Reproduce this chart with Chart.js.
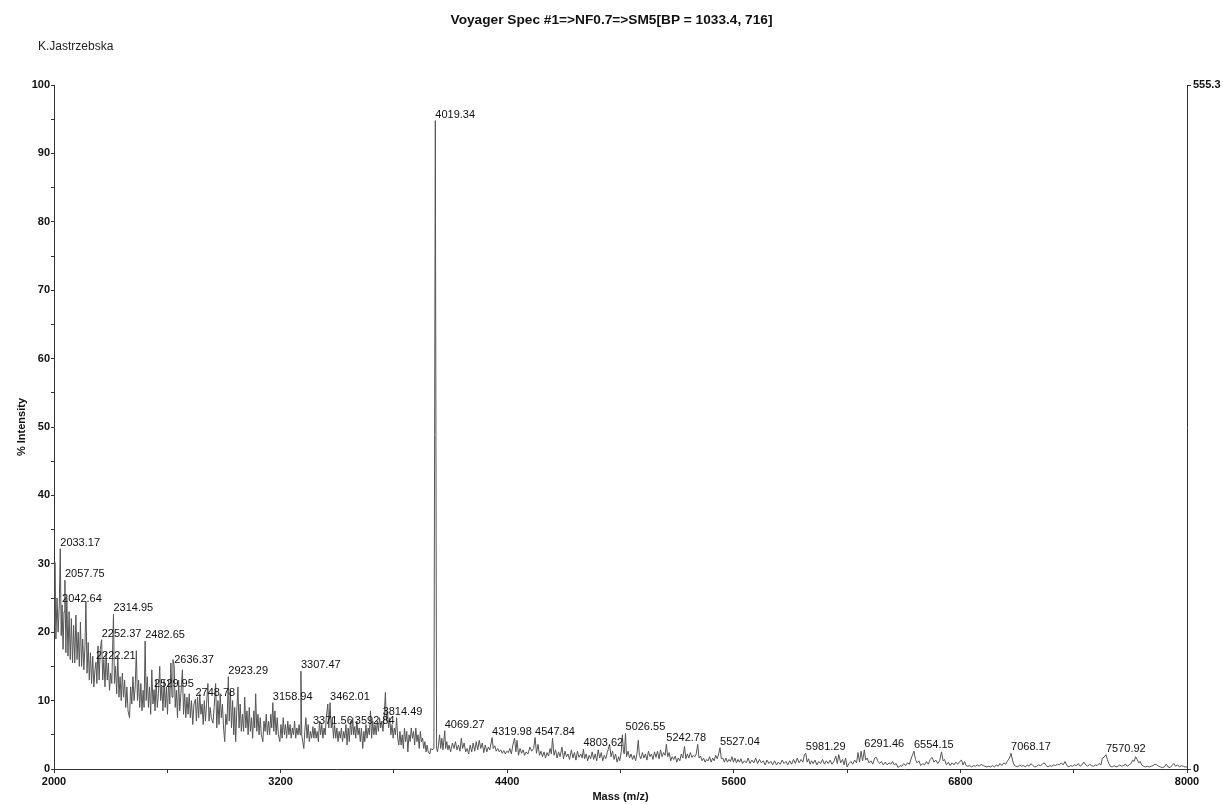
<!DOCTYPE html>
<html>
<head>
<meta charset="utf-8">
<title>Voyager Spec #1</title>
<script src="https://cdn.jsdelivr.net/npm/chart.js@4.4.1/dist/chart.umd.min.js"></script>
<style>
  html, body { margin: 0; padding: 0; background: #fff; }
  #wrap { width: 1223px; height: 805px; }
</style>
</head>
<body>
<div id="wrap"><canvas id="spectrum" width="1223" height="805"></canvas></div>
<script>
const titleText = "Voyager Spec #1=>NF0.7=>SM5[BP = 1033.4, 716]";
const operator = "K.Jastrzebska";

// m/z and % intensity, 2000-3000
const massA = [2000, 2005, 2010, 2016, 2022, 2028, 2033.17, 2038, 2042.64, 2048, 2053, 2057.75, 2063, 2068, 2074, 2080, 2086, 2092, 2098,
  2104, 2110, 2116, 2122, 2128, 2134, 2140, 2146, 2152, 2158, 2164, 2169, 2175, 2181, 2187, 2193, 2199,
  2205, 2211, 2217, 2222.21, 2227, 2233, 2239, 2245, 2252.37, 2258, 2264, 2270, 2276, 2282, 2288, 2294, 2300,
  2306, 2314.95, 2320, 2326, 2332, 2338, 2344, 2350, 2356, 2362, 2368, 2374, 2380, 2386, 2392, 2400,
  2406, 2412, 2418, 2424, 2430, 2436, 2442, 2448, 2454, 2460, 2466, 2472, 2477, 2482.65, 2488, 2494, 2500,
  2506, 2512, 2518, 2524, 2529.95, 2535, 2541, 2547, 2553, 2560, 2565, 2571, 2577, 2583, 2589, 2595, 2601,
  2607, 2613, 2619, 2625, 2630, 2636.37, 2642, 2648, 2654, 2660, 2666, 2672, 2680, 2686, 2692, 2698,
  2704, 2710, 2716, 2722, 2728, 2735, 2741, 2748.78, 2754, 2760, 2766, 2772, 2778, 2784, 2790, 2796,
  2802, 2808, 2815, 2821, 2827, 2833, 2842, 2848, 2856, 2862, 2868, 2874, 2880, 2886, 2892, 2898,
  2904, 2910, 2916, 2923.29, 2928, 2934, 2940, 2946, 2952, 2957, 2962, 2968, 2974, 2980, 2986, 2992, 2998];
const intA = [21, 30.2, 19, 25, 20, 24, 32.2, 19.5, 24, 17.5, 23, 27.6, 17, 25, 16.5, 23, 16, 22, 15.5,
  21, 15.5, 22.5, 16, 20, 15, 21.5, 15, 19, 14.5, 18, 24.5, 14, 18.5, 13, 17, 12.5,
  16.5, 12, 14.5, 15.6, 12.5, 18, 13, 17.5, 18.9, 13, 16, 12, 17, 13, 15.5, 11.5, 14,
  12.5, 22.6, 12.5, 15, 11, 16.5, 10.5, 13.5, 10, 14, 10.5, 13, 9, 12, 8.5, 7.5,
  12, 9.5, 13.5, 10, 12, 17.3, 10, 13, 9, 12.5, 8.5, 11.5, 9, 18.7, 10, 13.5, 9,
  12, 8, 14.5, 9.5, 11.6, 8.5, 13, 9, 11, 15, 10, 12, 8.5, 13, 9, 12, 8,
  13, 9.5, 15.5, 10.5, 16, 15.1, 9, 11.5, 7.5, 13, 8.5, 11, 14.5, 8, 11, 7.5,
  10.5, 8, 11, 7.5, 10, 6.5, 9.5, 10.2, 7, 10.5, 7.5, 11, 8, 9.5, 6.5, 10,
  7, 9.5, 12.5, 7, 9, 7.5, 6.7, 9, 12.5, 6, 10, 6.5, 11, 7.5, 9.5, 6,
  4, 8, 6.5, 13.5, 7, 11.5, 6, 10, 5, 9, 4, 8.5, 12, 6, 9.5, 5.5, 8];

// 3000-4100, including the base peak
const massB = [3004, 3010, 3016, 3022, 3028, 3034, 3040, 3046, 3052, 3058, 3063, 3068, 3074, 3080, 3086, 3092, 3098,
  3106, 3112, 3118, 3124, 3130, 3136, 3142, 3148, 3153, 3158.94, 3164, 3170, 3176, 3182, 3188, 3196,
  3202, 3208, 3214, 3220, 3226, 3232, 3238, 3244, 3250, 3256, 3262, 3268, 3274, 3280, 3286, 3292, 3298,
  3303, 3307.47, 3312, 3317, 3323, 3328, 3334, 3340, 3346, 3352, 3358, 3364, 3371.56, 3376, 3382, 3388, 3394, 3400,
  3406, 3412, 3418, 3424, 3430, 3436, 3442, 3450, 3455, 3462.01, 3468, 3474, 3480, 3486, 3492, 3498,
  3504, 3510, 3516, 3522, 3528, 3534, 3540, 3546, 3552, 3558, 3564, 3570, 3576, 3582, 3587, 3592.84, 3598,
  3604, 3610, 3616, 3622, 3628, 3635, 3641, 3646, 3652, 3658, 3664, 3670, 3676, 3682, 3688, 3694, 3700,
  3706, 3712, 3718, 3724, 3730, 3736, 3742, 3748, 3755, 3760, 3766, 3772, 3778, 3784, 3790, 3796,
  3802, 3808, 3814.49, 3820, 3826, 3832, 3838, 3844, 3850, 3856, 3862, 3868, 3874, 3880, 3886, 3892, 3898,
  3904, 3910, 3916, 3922, 3928, 3934, 3940, 3946, 3952, 3958, 3964, 3970, 3976, 3982, 3990, 3996,
  4002, 4012, 4019.34, 4026, 4031, 4036, 4042, 4048, 4054, 4060, 4069.27, 4074, 4080, 4086, 4092];
const intB = [5.5, 10.5, 6, 8.5, 5, 9, 5.5, 7.5, 4.5, 8.5, 6, 11, 5.5, 8, 5, 7.5, 5,
  4, 7, 5.5, 8, 5, 7, 5, 8, 6, 9.7, 5.5, 8.5, 5, 7.5, 5, 4,
  6.5, 4.5, 7.5, 5, 6.5, 4.5, 7, 5, 6.5, 4.5, 6, 5, 7, 4.5, 6, 5, 6.5,
  5, 14.3, 5, 4, 3, 5.5, 7.5, 4.5, 6.5, 4, 5.5, 4.5, 6.2, 4.5, 6, 4.5, 5.5, 4,
  7, 5, 6.5, 4.5, 6, 5, 7.5, 9.5, 6, 9.7, 6, 7.5, 4.5, 6.5, 4.5, 6,
  4, 5.5, 4.5, 6, 4, 5.5, 4.5, 6.5, 3.5, 6, 4, 7, 5, 7.5, 5, 6.2, 4.5,
  7, 5, 6, 4, 6, 3, 5.5, 4, 6.5, 4.5, 6, 5, 8.5, 4.5, 7, 5, 6.5,
  5, 7, 5.5, 7.5, 6, 7, 5.5, 7.5, 11.2, 7, 8.5, 6, 7.5, 5, 6.5, 4.5,
  6, 5, 7.5, 4.5, 3.5, 5.5, 3.5, 5, 3, 6, 4, 5.5, 2.5, 5, 4, 6, 4.5,
  5.5, 3.5, 6, 4, 5, 3, 5.5, 4, 4.5, 3, 4, 2.5, 3.5, 2.5, 2.2, 3,
  2.8, 3, 94.8, 3, 2.5, 3.5, 5, 3, 4.5, 2.8, 5.6, 3, 4, 2.8, 3.5];

// 4100-6000
const massC = [4100, 4110, 4118, 4126, 4134, 4142, 4150, 4157, 4164, 4172, 4180, 4188, 4196, 4204, 4212, 4220,
  4228, 4236, 4244, 4252, 4260, 4268, 4276, 4284, 4292, 4300, 4308, 4319.98, 4326, 4334, 4342, 4350,
  4358, 4366, 4374, 4382, 4390, 4398, 4406, 4414, 4422, 4430, 4439, 4446, 4452, 4460, 4468, 4476, 4484,
  4492, 4500, 4510, 4520, 4530, 4540, 4547.84, 4555, 4563, 4571, 4579, 4587, 4595, 4603, 4611, 4619,
  4627, 4634, 4640, 4648, 4656, 4664, 4672, 4680, 4690, 4698, 4706, 4714, 4722, 4730, 4740, 4748,
  4756, 4764, 4772, 4780, 4790, 4797, 4803.62, 4810, 4818, 4826, 4834, 4842, 4850, 4858, 4866, 4874,
  4882, 4890, 4898, 4906, 4914, 4922, 4930, 4942, 4950, 4958, 4966, 4974, 4982, 4990, 4996, 5004,
  5010, 5016, 5020, 5026.55, 5032, 5040, 5048, 5056, 5064, 5072, 5080, 5087, 5094, 5100, 5108, 5116,
  5124, 5132, 5140, 5148, 5156, 5164, 5172, 5180, 5188, 5196, 5204, 5212, 5220, 5228, 5236, 5242.78,
  5250, 5258, 5266, 5274, 5282, 5290, 5298, 5306, 5314, 5322, 5330, 5339, 5346, 5354, 5362, 5370,
  5378, 5386, 5394, 5401, 5409, 5416, 5424, 5432, 5440, 5448, 5456, 5464, 5472, 5480, 5488, 5496,
  5504, 5512, 5520, 5527.04, 5534, 5542, 5550, 5558, 5566, 5574, 5582, 5590, 5598, 5606, 5614, 5622,
  5630, 5638, 5646, 5656, 5666, 5676, 5686, 5696, 5706, 5716, 5726, 5736, 5746, 5756, 5766, 5776,
  5786, 5796, 5806, 5816, 5826, 5836, 5846, 5856, 5866, 5876, 5886, 5896, 5906, 5916, 5926, 5936,
  5946, 5956, 5966, 5974, 5981.29, 5988, 5996];
const intC = [2.5, 3.8, 3, 4, 2.8, 3.5, 2.6, 4.5, 3, 3.8, 2.5, 3, 2.2, 3.5, 2.5, 3.8,
  2.6, 4, 2.8, 4.2, 3, 3.8, 2.4, 3.5, 2.5, 3.2, 2.8, 4.6, 3, 3.4, 2.6, 3,
  2.5, 2.8, 2.3, 2.7, 2.2, 2.6, 2.4, 3, 2.2, 3.5, 4.5, 2.5, 4.2, 2, 3, 2.3, 2.8,
  2, 2.5, 2.2, 3.2, 2.6, 3, 4.6, 2.3, 3.6, 2, 2.6, 1.8, 2.5, 1.6, 2.4, 1.9,
  3, 2.2, 4.5, 2, 2.8, 1.6, 2.5, 1.8, 3.2, 1.5, 2.6, 1.8, 2.2, 1.4, 2.8, 1.6,
  2.4, 1.3, 2.6, 1.7, 2.2, 1.6, 2.9, 1.5, 2.2, 1.2, 2, 1.5, 2.5, 1.4, 2.2, 1.2,
  2.8, 1.6, 2.4, 1.2, 2, 1.5, 2.4, 3.6, 1.8, 2.6, 1.4, 2.2, 1, 1.8, 1.2, 2.5,
  5, 2.4, 2.2, 5.2, 1.8, 2.6, 1.6, 2.2, 1.4, 2, 1.2, 2.2, 4.2, 2, 1.5, 2.4,
  1.6, 2.2, 1.3, 2.6, 1.8, 2.2, 1.4, 2.5, 1.7, 2.6, 1.5, 2.8, 1.8, 2.4, 2, 3.6,
  1.8, 2.4, 1.2, 1.8, 1.4, 1.9, 1, 1.6, 1.2, 2.2, 1.6, 3.3, 1.5, 2.2, 1.6, 2.4,
  1.7, 2, 1.8, 2.2, 3.6, 1.6, 1.9, 1.2, 1.6, 1, 1.4, 1.2, 1.8, 1, 1.6, 1.2,
  2, 1.5, 2.2, 3.1, 1.5, 1.6, 1, 1.6, 1, 1.4, 1.1, 1.8, 1, 1.6, 0.9, 1.4,
  1, 1.5, 0.8, 1.2, 0.9, 1.6, 0.8, 1.3, 0.9, 1.6, 0.8, 1.4, 0.9, 1.2, 0.6, 1.3,
  0.8, 1.1, 0.6, 1.2, 0.6, 1, 0.7, 1.3, 0.8, 1.1, 0.6, 1.2, 0.7, 1.4, 0.8, 1.6,
  0.9, 1.4, 1, 2.1, 2.3, 1, 1.5];

// 6000-8000
const massD = [6004, 6012, 6020, 6030, 6040, 6050, 6060, 6070, 6080, 6090, 6100, 6110, 6120, 6130, 6140, 6148,
  6156, 6166, 6176, 6184, 6192, 6200, 6210, 6220, 6230, 6240, 6250, 6258, 6266, 6274, 6282, 6291.46,
  6298, 6306, 6316, 6326, 6336, 6346, 6355, 6362, 6372, 6382, 6392, 6402, 6412, 6422, 6432, 6441,
  6450, 6460, 6470, 6480, 6490, 6500, 6510, 6520, 6530, 6540, 6554.15, 6562, 6570, 6580, 6590, 6600,
  6610, 6620, 6630, 6640, 6650, 6660, 6670, 6680, 6690, 6700, 6708, 6716, 6726, 6736, 6746, 6756,
  6766, 6776, 6786, 6796, 6806, 6814, 6822, 6830, 6840, 6850, 6860, 6870, 6880, 6890, 6900, 6910,
  6920, 6930, 6940, 6950, 6960, 6970, 6980, 6990, 7000, 7010, 7020, 7030, 7040, 7050, 7060, 7068.17,
  7076, 7084, 7094, 7104, 7114, 7124, 7134, 7144, 7154, 7164, 7174, 7184, 7194, 7204, 7214, 7224,
  7234, 7244, 7254, 7264, 7274, 7284, 7294, 7304, 7314, 7324, 7334, 7344, 7354, 7364, 7374, 7384,
  7394, 7404, 7414, 7424, 7434, 7444, 7454, 7464, 7474, 7484, 7494, 7504, 7514, 7524, 7534, 7544,
  7552, 7560, 7570.92, 7578, 7586, 7594, 7604, 7614, 7624, 7634, 7644, 7654, 7664, 7674, 7684, 7694,
  7704, 7712, 7720, 7728, 7736, 7744, 7752, 7760, 7770, 7780, 7790, 7800, 7810, 7820, 7830, 7840,
  7850, 7860, 7870, 7880, 7890, 7900, 7910, 7920, 7930, 7940, 7950, 7960, 7970, 7980, 7990, 8000];
const intD = [0.7, 1.2, 0.8, 1.3, 0.6, 1.1, 0.8, 1.4, 0.7, 1.2, 0.8, 1.3, 0.7, 1.1, 1.9, 0.8,
  2.1, 0.9, 1.4, 0.6, 1.6, 0.3, 0.8, 1.1, 0.7, 1.3, 0.9, 2.4, 1, 2.6, 1.2, 2.8,
  1.3, 1.6, 0.9, 1.2, 0.7, 1.6, 1.7, 1.2, 0.8, 1.1, 0.6, 1, 0.6, 0.9, 0.7, 1.1,
  0.6, 0.8, 0.2, 0.5, 0.4, 0.8, 0.5, 0.9, 0.7, 1.6, 2.6, 1.4, 0.9, 1.2, 0.5, 0.8,
  0.6, 1.1, 0.7, 1.4, 1.7, 1, 1.3, 0.8, 1.2, 2.5, 1.2, 1.4, 0.6, 1, 0.5, 0.9,
  0.6, 1, 0.7, 1.1, 1.3, 0.6, 1.1, 0.5, 0.4, 0.5, 0.3, 0.5, 0.4, 0.6, 0.4, 0.7,
  0.5, 0.4, 0.3, 0.4, 0.3, 0.5, 0.3, 0.6, 0.4, 0.8, 0.5, 0.9, 0.7, 1.2, 1.6, 2.3,
  1.3, 0.6, 0.4, 0.3, 0.6, 0.4, 0.5, 0.3, 0.6, 0.4, 0.8, 0.5, 0.3, 0.4, 0.6, 0.5,
  0.7, 0.9, 0.5, 0.3, 0.5, 0.4, 0.6, 0.5, 0.7, 0.6, 0.9, 0.6, 1.1, 0.5, 0.3, 0.5,
  0.4, 0.6, 0.5, 0.8, 0.4, 0.6, 1, 0.6, 0.4, 0.7, 0.5, 0.4, 0.6, 0.5, 0.8, 0.6,
  1.6, 1.7, 2.1, 1.4, 0.8, 0.4, 0.3, 0.5, 0.3, 0.4, 0.6, 0.4, 0.5, 0.7, 0.4, 0.6,
  0.8, 1.3, 1.1, 1.8, 1.4, 0.9, 1.1, 0.6, 0.4, 0.3, 0.4, 0.3, 0.4, 0.5, 0.7, 0.6,
  0.4, 0.3, 0.2, 0.3, 0.7, 0.3, 0.2, 0.5, 0.8, 0.4, 0.6, 0.3, 0.5, 0.4, 0.3, 0.3];

// centroided peaks that get a mass label
const peakMasses = [2033.17, 2057.75, 2042.64, 2314.95, 2252.37, 2482.65, 2222.21, 2636.37, 2529.95, 2748.78,
  2923.29, 3307.47, 3158.94, 3462.01, 3371.56, 3592.84, 3814.49, 4019.34, 4069.27, 4319.98, 4547.84,
  4803.62, 5026.55, 5242.78, 5527.04, 5981.29, 6291.46, 6554.15, 7068.17, 7570.92];

const xTicks = [2000, 3200, 4400, 5600, 6800, 8000];
const rightTicks = [0, 555.3];

const masses = massA.concat(massB, massC, massD);
const intensities = intA.concat(intB, intC, intD);
const points = masses.map((m, i) => ({ x: m, y: intensities[i] }));

const fontFamily = "'Liberation Sans', Arial, Helvetica, sans-serif";
Chart.defaults.font.family = fontFamily;
Chart.defaults.color = "#111";

// writes the mass above each labelled peak
const peakLabels = {
  id: "peakLabels",
  afterDatasetsDraw(chart, args, opts) {
    const ctx = chart.ctx;
    const xs = chart.scales.x;
    const ys = chart.scales.y;
    ctx.save();
    ctx.font = "11px " + fontFamily;
    ctx.fillStyle = "#111";
    ctx.textAlign = "left";
    ctx.textBaseline = "alphabetic";
    peakMasses.forEach(function (m) {
      const idx = masses.indexOf(m);
      if (idx < 0) return;
      const shift = opts.shift[m] || 0;
      const px = xs.getPixelForValue(m) + shift;
      const py = ys.getPixelForValue(intensities[idx]) - 3;
      ctx.fillText(m.toFixed(2), px, py);
    });
    ctx.restore();
  },
};

// operator name under the title
const operatorNote = {
  id: "operatorNote",
  afterDraw(chart) {
    const ctx = chart.ctx;
    ctx.save();
    ctx.font = "12px " + fontFamily;
    ctx.fillStyle = "#222";
    ctx.textBaseline = "middle";
    ctx.fillText(operator, 38, 47);
    ctx.restore();
  },
};

const axisColor = "#333";

new Chart(document.getElementById("spectrum"), {
  type: "line",
  data: {
    datasets: [
      {
        data: points,
        borderColor: "#555",
        borderWidth: 1,
        pointRadius: 0,
        tension: 0,
        yAxisID: "y",
      },
    ],
  },
  options: {
    responsive: false,
    animation: false,
    events: [],
    layout: { padding: 0 },
    plugins: {
      legend: { display: false },
      tooltip: { enabled: false },
      title: {
        display: true,
        text: titleText,
        color: "#111",
        font: { size: 13.7, weight: "bold" },
        padding: { top: 12.5, bottom: 56.06 },
      },
      peakLabels: { shift: { 3814.49: -14 } },
    },
    scales: {
      x: {
        type: "linear",
        min: 2000,
        max: 8000,
        afterFit: (s) => { s.height = 36; },
        ticks: {
          stepSize: 600,
          autoSkip: false,
          maxRotation: 0,
          padding: 2,
          color: "#111",
          font: { size: 11, weight: "bold" },
          callback: (v) => (xTicks.includes(v) ? String(v) : ""),
        },
        grid: { drawOnChartArea: false, tickLength: 4, tickColor: axisColor },
        border: { color: axisColor, width: 1 },
        title: {
          display: true,
          text: "Mass (m/z)",
          color: "#111",
          font: { size: 11, weight: "bold" },
          padding: { top: 0, bottom: 1.5 },
        },
      },
      y: {
        position: "left",
        min: 0,
        max: 100,
        afterFit: (s) => { s.width = 54; },
        ticks: {
          stepSize: 5,
          autoSkip: false,
          padding: 1,
          color: "#111",
          font: { size: 11, weight: "bold" },
          callback: (v) => (v % 10 === 0 ? String(v) : ""),
        },
        grid: { drawOnChartArea: false, tickLength: 3, tickColor: axisColor },
        border: { color: axisColor, width: 1 },
        title: {
          display: true,
          text: "% Intensity",
          color: "#111",
          font: { size: 11, weight: "bold" },
          padding: { top: 15.5, bottom: 0 },
        },
      },
      y1: {
        position: "right",
        min: 0,
        max: 555.3,
        afterBuildTicks: (s) => { s.ticks = rightTicks.map((v) => ({ value: v })); },
        afterFit: (s) => { s.width = 36; },
        ticks: {
          padding: 2,
          color: "#111",
          font: { size: 11, weight: "bold" },
          callback: (v) => String(v),
        },
        grid: { drawOnChartArea: false, tickLength: 4, tickColor: axisColor },
        border: { color: axisColor, width: 1 },
      },
    },
  },
  plugins: [peakLabels, operatorNote],
});
</script>
</body>
</html>
